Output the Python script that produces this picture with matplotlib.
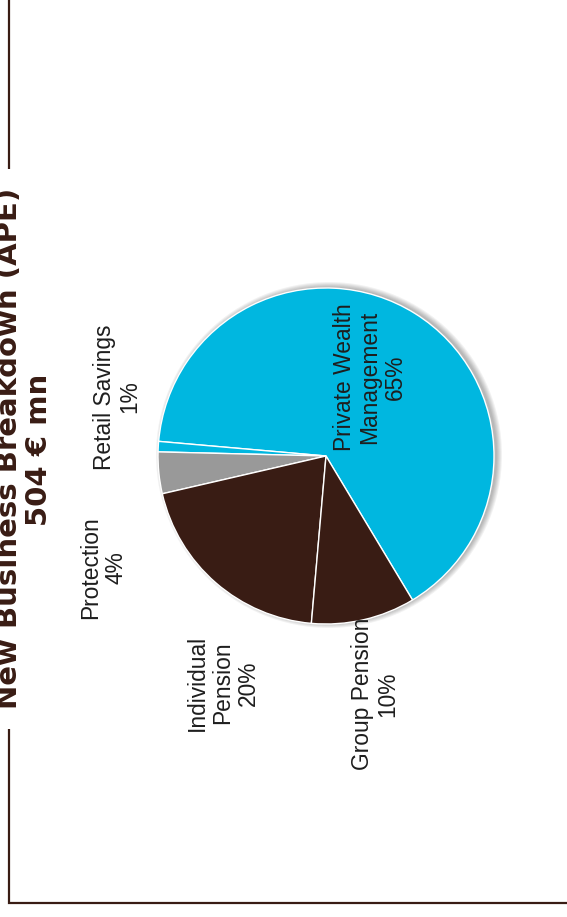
import matplotlib
matplotlib.use("Agg")
import matplotlib.pyplot as plt
from matplotlib.patches import Circle

# New business split by line (APE), shares in percent
segments = ["Private Wealth\nManagement", "Retail Savings", "Protection",
            "Individual\nPension", "Group Pension"]
shares = [65, 1, 4, 20, 10]
total_ape = 504

BROWN = "#391c14"
CYAN = "#00b7e0"
GREY = "#999999"
colors = [CYAN, CYAN, GREY, BROWN, BROWN]

W, H = 567, 917


def px(x, y):
    # pixel position (from top-left) -> data coords of the full-figure axes
    return x, H - y


fig = plt.figure(figsize=(W / 100, H / 100), dpi=100)
ax = fig.add_axes([0, 0, 1, 1])
ax.set_xlim(0, W)
ax.set_ylim(0, H)
ax.axis("off")

cx, cy = px(326, 456)
radius = 168

# soft shadow behind the pie
for k in range(6):
    ax.add_patch(Circle((cx + 3, cy + 1), radius + 5 - k, color="#000000",
                        alpha=0.05, lw=0, zorder=1))

ax.pie(shares, colors=colors, startangle=-59, counterclock=True,
       center=(cx, cy), radius=radius, frame=True,
       wedgeprops=dict(edgecolor="white", linewidth=1.0, zorder=2))
ax.set_xlim(0, W)
ax.set_ylim(0, H)
ax.set_aspect("auto")
ax.axis("off")

# label centres, one per segment
label_pos = [(370, 377), (117, 397), (103, 568), (223, 683), (375, 694)]
for name, val, (lx, ly) in zip(segments, shares, label_pos):
    ax.text(*px(lx, ly), f"{name}\n{val}%", rotation=90, ha="center",
            va="center", multialignment="center", fontsize=16.4,
            family="Liberation Sans", color="#1e1e1e", linespacing=1.15,
            zorder=5)

# title, two rotated lines
ax.text(*px(17, 448), "New Business Breakdown (APE)", rotation=90,
        rotation_mode="anchor", ha="center", va="baseline", fontsize=21,
        fontweight="bold", family="DejaVu Sans", color=BROWN)
ax.text(*px(47, 450), f"{total_ape} \u20ac mn", rotation=90,
        rotation_mode="anchor", ha="center", va="baseline", fontsize=21,
        fontweight="bold", family="DejaVu Sans", color=BROWN)

# frame with a gap for the title
lw = 1.6
ax.plot(*zip(px(8.5, 0), px(8.5, 169)), color=BROWN, lw=lw,
        solid_capstyle="butt")
ax.plot(*zip(px(8.5, 729), px(8.5, 903), px(W, 903)), color=BROWN, lw=lw,
        solid_capstyle="butt", solid_joinstyle="miter")

fig.savefig("out.png", dpi=100, facecolor="white")
